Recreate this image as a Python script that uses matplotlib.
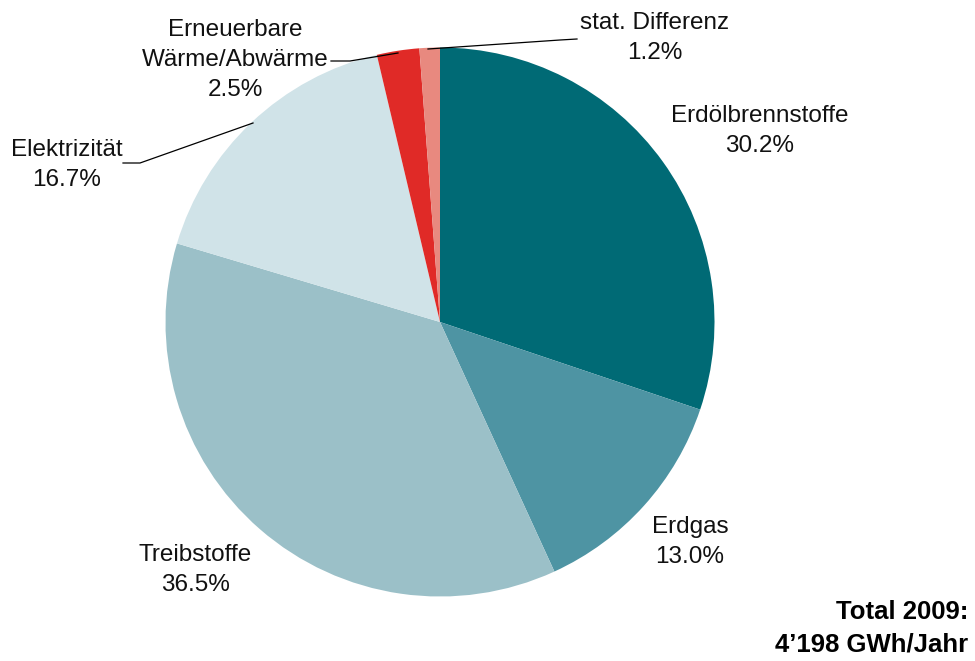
import matplotlib.pyplot as plt

plt.rcParams['font.family'] = ['Liberation Sans', 'DejaVu Sans']

# data, clockwise from 12 o'clock
labels = ["Erdölbrennstoffe", "Erdgas", "Treibstoffe", "Elektrizität",
          "Erneuerbare\nWärme/Abwärme", "stat. Differenz"]
shares = [30.2, 13.0, 36.5, 16.7, 2.5, 1.2]
colors = ["#006a75", "#4e94a3", "#9bc0c8", "#d0e3e8", "#e02a27", "#e8897f"]

# label positions (pixels, origin top left)
label_pos = [(760, 131), (690, 542), (195, 570), (67, 165), (235, 60), (655, 38)]

fig = plt.figure(figsize=(9.75, 6.61), dpi=100)
ax = fig.add_axes([0, 0, 1, 1])
H = 661

ax.pie(shares, colors=colors, startangle=90, counterclock=False,
       center=(440, H - 322), radius=274.5, frame=True)
ax.set_xlim(0, 975)
ax.set_ylim(0, H)
ax.set_aspect('equal')
ax.axis('off')

for lab, val, (x, y) in zip(labels, shares, label_pos):
    ax.text(x, H - y, f"{lab}\n{val:.1f}%", ha='center', va='center',
            fontsize=17.5, linespacing=1.45, color='#111111')

# leader lines
def leader(pts):
    ax.plot([p[0] for p in pts], [H - p[1] for p in pts], color='black', lw=0.9)

leader([(123, 163), (140, 163), (253, 123)])
leader([(331, 61), (350, 61), (398, 53)])
leader([(428, 49), (560, 40), (577, 39)])

ax.text(968, H - 628, "Total 2009:\n4\u2019198 GWh/Jahr", ha='right', va='center',
        fontsize=18.5, fontweight='bold', linespacing=1.45)

fig.savefig("out.png", dpi=100)
